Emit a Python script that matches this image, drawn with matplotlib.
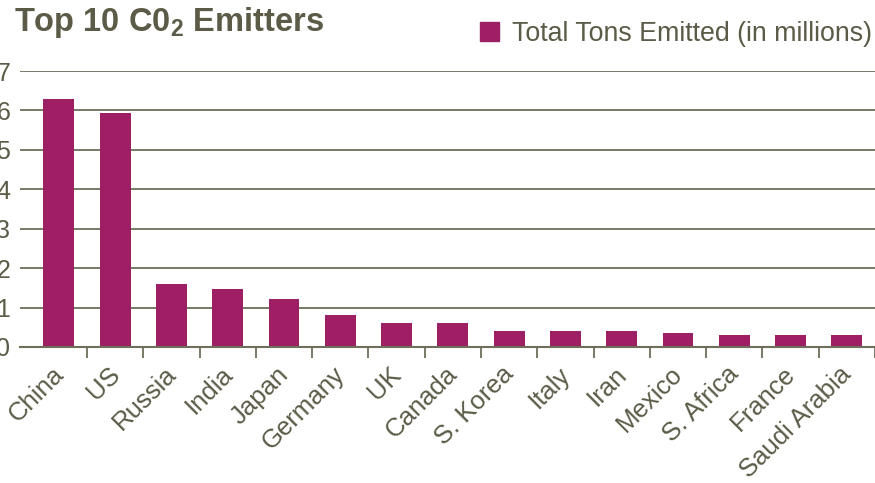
import matplotlib
matplotlib.use("Agg")
import matplotlib.pyplot as plt
from matplotlib.patches import Patch
import matplotlib.transforms as mtransforms
import numpy as np

countries = ["China", "US", "Russia", "India", "Japan", "Germany", "UK", "Canada",
             "S. Korea", "Italy", "Iran", "Mexico", "S. Africa", "France", "Saudi Arabia"]
emissions = [6.28, 5.93, 1.59, 1.46, 1.23, 0.80, 0.62, 0.62, 0.40, 0.40, 0.40, 0.35, 0.30, 0.30, 0.30]
yticks = [0, 1, 2, 3, 4, 5, 6, 7]

TXT = "#5b5b47"
GRID = "#6e6e5a"
BAR = "#9e1f63"

plt.rcParams['font.family'] = ['Liberation Sans', 'DejaVu Sans']
plt.rcParams['mathtext.fontset'] = 'custom'
plt.rcParams['mathtext.rm'] = 'Liberation Sans'
plt.rcParams['mathtext.bf'] = 'Liberation Sans:bold'

fig = plt.figure(figsize=(8.75, 4.83), dpi=100)
ax = fig.add_axes([20/875, 1-347/483, 1-20/875, (347-71)/483])

x = np.arange(len(countries))
ax.bar(x, emissions, width=0.55, color=BAR, zorder=3)
ax.set_xlim(-0.69, len(countries) - 0.5)
ax.set_ylim(0, 7)
ax.set_yticks(yticks)
ax.set_yticklabels([str(t) for t in yticks])
ax.yaxis.grid(True, color=GRID, linewidth=1.3, zorder=0)
ax.set_axisbelow(True)
for s in ["top", "right", "left"]:
    ax.spines[s].set_visible(False)
ax.spines["bottom"].set_color(GRID)
ax.spines["bottom"].set_linewidth(1.5)
ax.spines["bottom"].set_zorder(4)

ax.set_xticks(x)
ax.set_xticklabels(countries, rotation=45, ha='right', va='center', rotation_mode='anchor',
                   fontsize=18.5, color=TXT)
ax.set_xticks(np.arange(len(countries)) + 0.5, minor=True)
ax.tick_params(axis='x', which='major', length=0, pad=17)
ax.tick_params(axis='x', which='minor', length=8, width=1.3, color=GRID)
ax.tick_params(axis='y', length=0, pad=7, labelsize=18, labelcolor=TXT)

offset = mtransforms.ScaledTranslation(1/100, 0, fig.dpi_scale_trans)
for lbl in ax.get_xticklabels():
    lbl.set_transform(lbl.get_transform() + offset)

fig.text(14/875, 1-31/483, r"Top 10 C0$_\mathbf{2}$ Emitters", fontsize=23.5, fontweight='bold',
         color=TXT, ha='left', va='baseline')

fig.legend(handles=[Patch(color=BAR)], labels=["Total Tons Emitted (in millions)"],
           loc='center right', bbox_to_anchor=(872/875, 1-34/483), frameon=False,
           handlelength=0.7, handleheight=0.7, handletextpad=0.5, fontsize=19.3,
           labelcolor=TXT, borderaxespad=0, borderpad=0)

fig.savefig("out.png", dpi=100)
